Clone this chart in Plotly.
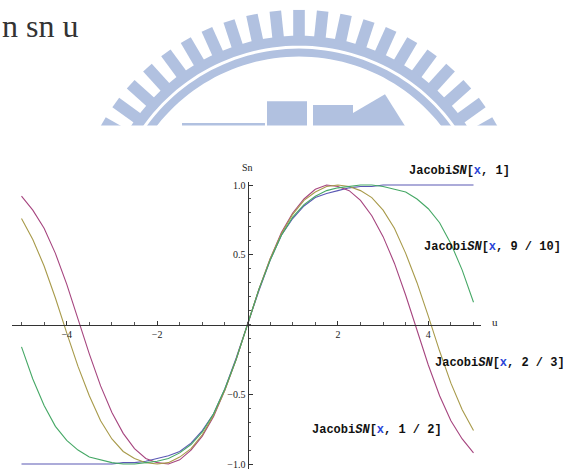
import math
import plotly.graph_objects as go

# ---------------- data ----------------
x_vals = [-5.0, -4.75, -4.5, -4.25, -4.0, -3.75, -3.5, -3.25, -3.0, -2.75, -2.5,
          -2.25, -2.0, -1.75, -1.5, -1.25, -1.0, -0.75, -0.5, -0.25, 0.0, 0.25,
          0.5, 0.75, 1.0, 1.25, 1.5, 1.75, 2.0, 2.25, 2.5, 2.75, 3.0, 3.25, 3.5,
          3.75, 4.0, 4.25, 4.5, 4.75, 5.0]

sn_m1 = [-1.00, -1.00, -1.00, -1.00, -1.00, -1.00, -1.00, -1.00, -1.00, -0.99, -0.99,
         -0.98, -0.96, -0.94, -0.91, -0.85, -0.76, -0.64, -0.46, -0.24, 0.00, 0.24,
         0.46, 0.64, 0.76, 0.85, 0.91, 0.94, 0.96, 0.98, 0.99, 0.99, 1.00, 1.00, 1.00,
         1.00, 1.00, 1.00, 1.00, 1.00, 1.00]

sn_m12 = [0.92, 0.82, 0.69, 0.51, 0.29, 0.04, -0.21, -0.44, -0.63, -0.78, -0.89,
          -0.96, -0.99, -1.00, -0.97, -0.90, -0.80, -0.66, -0.47, -0.25, 0.00, 0.25,
          0.47, 0.66, 0.80, 0.90, 0.97, 1.00, 0.99, 0.96, 0.89, 0.78, 0.63, 0.44, 0.21,
          -0.04, -0.29, -0.51, -0.69, -0.82, -0.92]

sn_m23 = [0.76, 0.61, 0.42, 0.19, -0.06, -0.30, -0.51, -0.69, -0.82, -0.91, -0.96,
          -0.99, -1.00, -0.99, -0.95, -0.89, -0.79, -0.65, -0.47, -0.25, 0.00, 0.25,
          0.47, 0.65, 0.79, 0.89, 0.95, 0.99, 1.00, 0.99, 0.96, 0.91, 0.82, 0.69, 0.51,
          0.30, 0.06, -0.19, -0.42, -0.61, -0.76]

sn_m910 = [-0.16, -0.39, -0.58, -0.73, -0.83, -0.90, -0.95, -0.97, -0.99, -1.00, -1.00,
           -0.99, -0.98, -0.96, -0.92, -0.86, -0.77, -0.64, -0.46, -0.25, 0.00, 0.25,
           0.46, 0.64, 0.77, 0.86, 0.92, 0.96, 0.98, 0.99, 1.00, 1.00, 0.99, 0.97, 0.95,
           0.90, 0.83, 0.73, 0.58, 0.39, 0.16]

series_labels = ["JacobiSN[x, 1]", "JacobiSN[x, 9 / 10]", "JacobiSN[x, 2 / 3]", "JacobiSN[x, 1 / 2]"]
x_tick_vals = [-4, -2, 2, 4]
x_tick_text = ["\u22124", "\u22122", "2", "4"]
y_tick_vals = [-1.0, -0.5, 0.5, 1.0]
y_tick_text = ["\u22121.0", "\u22120.5", "0.5", "1.0"]

# ---------------- layout geometry ----------------
W, H = 566, 470


def P(px, py):
    return px / W, 1 - py / H


X0PX, XSC = 247.5, 45.2     # pixel of x=0, pixels per unit
Y0PX, YSC = 324.3, 140.7    # pixel of y=0, pixels per unit
XL, XR = 12, 481            # x-axis line extent (px)
YT, YB = 181, 470           # y-axis line extent (px)

fig = go.Figure()

colors = {"m1": "#5a58b4", "m12": "#a6457f", "m23": "#a89a4a", "m910": "#46a866"}
for ys, c in [(sn_m1, colors["m1"]), (sn_m12, colors["m12"]),
              (sn_m23, colors["m23"]), (sn_m910, colors["m910"])]:
    fig.add_trace(go.Scatter(x=x_vals, y=ys, mode="lines",
                             line=dict(color=c, width=1.1), hoverinfo="skip"))

tick_font = dict(family="Liberation Serif", size=10, color="#222")

fig.update_layout(
    width=W, height=H,
    margin=dict(l=0, r=0, t=0, b=0),
    paper_bgcolor="white", plot_bgcolor="rgba(0,0,0,0)",
    showlegend=False,
    xaxis=dict(
        domain=[XL / W, XR / W],
        range=[(XL - X0PX) / XSC, (XR - X0PX) / XSC],
        anchor="free", position=1 - Y0PX / H,
        showline=True, linecolor="#333", linewidth=1,
        showgrid=False, zeroline=False,
        ticks="inside", ticklen=4, tickwidth=1, tickcolor="#333",
        tickvals=x_tick_vals, ticktext=x_tick_text, tickfont=tick_font,
        ticklabeloverflow="allow",
        minor=dict(ticks="inside", ticklen=2.5, tickwidth=1, tickcolor="#555",
                   dtick=0.5, tick0=0, showgrid=False),
    ),
    yaxis=dict(
        domain=[1 - YB / H, 1 - YT / H],
        range=[-(YB - Y0PX) / YSC, (Y0PX - YT) / YSC],
        anchor="free", position=X0PX / W, side="left",
        showline=True, linecolor="#333", linewidth=1,
        showgrid=False, zeroline=False,
        ticks="inside", ticklen=4, tickwidth=1, tickcolor="#333",
        tickvals=y_tick_vals, ticktext=y_tick_text, tickfont=tick_font,
        ticklabeloverflow="allow",
        minor=dict(ticks="inside", ticklen=2.5, tickwidth=1, tickcolor="#555",
                   dtick=0.1, tick0=0, showgrid=False),
    ),
)

# ---------------- watermark logo (decoration) ----------------
LOGO = "rgb(177,193,224)"
CX, CY = 299, 233.5
shapes = []


def path_of(pts):
    s = "M " + " L ".join("%.5f,%.5f" % P(px, py) for px, py in pts) + " Z"
    return s


# radial bars
for k in range(-11, 12):
    th = math.radians(90 + 6 * k)
    ux, uy = math.cos(th), -math.sin(th)
    nx, ny = math.sin(th), math.cos(th)
    r1, r2, w = 198, 226.5, 5.8
    pts = [(CX + r1 * ux + w * nx, CY + r1 * uy + w * ny),
           (CX + r2 * ux + w * nx, CY + r2 * uy + w * ny),
           (CX + r2 * ux - w * nx, CY + r2 * uy - w * ny),
           (CX + r1 * ux - w * nx, CY + r1 * uy - w * ny)]
    shapes.append(dict(type="path", xref="paper", yref="paper", layer="below",
                       path=path_of(pts), fillcolor=LOGO, line=dict(width=0)))


def ring(r_in, r_out):
    angs = [math.radians(a) for a in range(10, 171, 2)]
    outer = [(CX + r_out * math.cos(a), CY - r_out * math.sin(a)) for a in angs]
    inner = [(CX + r_in * math.cos(a), CY - r_in * math.sin(a)) for a in reversed(angs)]
    return outer + inner


for rin, rout in [(190.5, 200.5), (179.5, 187.5)]:
    shapes.append(dict(type="path", xref="paper", yref="paper", layer="below",
                       path=path_of(ring(rin, rout)), fillcolor=LOGO, line=dict(width=0)))

# inner blocks
blocks = [
    [(182, 121), (265, 121), (265, 124), (182, 124)],
    [(267, 99), (307, 99), (307, 124), (267, 124)],
    [(313, 103), (353, 103), (353, 124), (313, 124)],
    [(353, 111), (385, 92), (405, 124), (353, 124), (347, 117)],
]
for b in blocks:
    shapes.append(dict(type="path", xref="paper", yref="paper", layer="below",
                       path=path_of(b), fillcolor=LOGO, line=dict(width=0)))

# the chart picture covers the lower part of the logo
shapes.append(dict(type="rect", xref="paper", yref="paper", layer="below",
                   x0=0, x1=1, y0=0, y1=1 - 123.5 / H,
                   fillcolor="white", line=dict(width=0)))
fig.update_layout(shapes=shapes)

# ---------------- text ----------------
ann = []


def add_text(text, px, py, font, xanchor="center", yanchor="middle"):
    x, y = P(px, py)
    ann.append(dict(text=text, x=x, y=y, xref="paper", yref="paper",
                    xanchor=xanchor, yanchor=yanchor, showarrow=False, font=font))


add_text("n sn u", 0, 23, dict(family="Liberation Serif", size=32, color="#333"),
         xanchor="left")
add_text("Sn", 247, 166, dict(family="Liberation Serif", size=10, color="#222"))
add_text("u", 495, 322, dict(family="Liberation Serif", size=11, color="#222"))

lab_font = dict(family="Liberation Mono", size=12, color="#111", weight="bold")
label_pos = [(459.5, 169), (492.5, 246), (499.5, 363), (376.5, 431)]
for lab, (px, py) in zip(series_labels, label_pos):
    head, rest = lab.split("[", 1)
    inner = rest.replace("x", '<span style="color:#2a44d8">x</span>', 1)
    html = "Jacobi<i>SN</i>[" + inner
    add_text(html, px, py, lab_font)

fig.update_layout(annotations=ann)

fig.write_html("out.html")
